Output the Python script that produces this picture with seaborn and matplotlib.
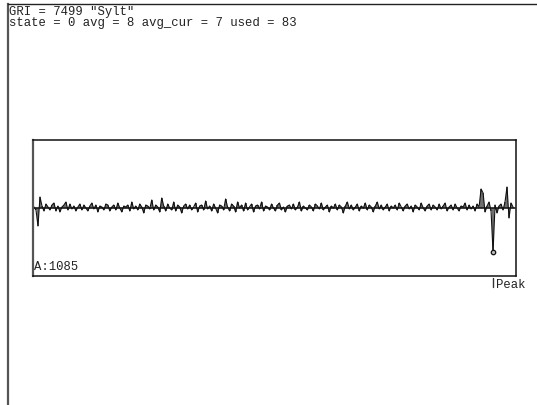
import numpy as np
import pandas as pd
import matplotlib
matplotlib.use("Agg")
import matplotlib.pyplot as plt
import seaborn as sns

# Receiver status line values
gri = 7499
station = "Sylt"
state = 0
avg = 8
avg_cur = 7
used = 83
amplitude_label = 1085

# Sampled pulse trace (one value per sample, baseline = 0)
trace = [
    1, -2, -18, 11, 2, -3, 4, 1, -2, 3, 5, -3, 2, -4, 1, 3, 6, -2, 4, -1,
    2, -3, 1, 4, -2, 3, 0, -3, 2, 5, -1, 3, -4, 2, 1, -2, 4, 3, -3, 1,
    3, -2, 5, 0, -4, 2, 1, 3, -3, 6, -1, 2, -2, 4, 1, -5, 3, 2, -1, 8,
    -2, 3, 1, -4, 10, 2, -3, 4, 0, -2, 6, -3, 3, 1, -5, 2, 4, -1, 3, -2,
    1, 5, -4, 2, 3, -2, 7, -1, 2, -3, 4, 0, -5, 3, 2, -2, 9, 1, -3, 4,
    2, -4, 6, 0, 3, -3, 5, -2, 1, 4, -4, 2, 3, -1, 6, -3, 2, 1, -2, 4,
    0, -3, 3, 5, -2, 1, -4, 2, 3, -1, 4, -2, 1, 6, -3, 2, 0, -2, 3, 1,
    -3, 4, 2, -1, 5, -2, 1, 3, -4, 2, 0, 4, -2, 3, 1, -5, 2, 6, -1, 3,
    -2, 1, 4, -3, 2, 0, 5, -2, 3, 1, -4, 2, 6, -1, 3, -2, 1, 4, -3, 2,
    0, 3, -2, 5, 1, -3, 2, 4, -1, 2, -4, 3, 1, -2, 5, 0, -3, 2, 4, -2,
    3, 1, -2, 4, -1, 2, 5, -3, 1, 3, -2, 4, 0, -3, 2, 1, 5, -2, 3, -1,
    2, -3, 4, 1, 19, 15, -4, 2, 6, -3, -44, 3, -5, 2, 4, -2, 6, 21, -10, 5, 1,
]
peak_index = 230

df = pd.DataFrame({"sample": np.arange(len(trace)), "value": trace})

sns.set_style("white")
plt.rcParams["font.family"] = ["Liberation Mono", "DejaVu Sans Mono"]

W, H = 537, 406
fig = plt.figure(figsize=(W / 100, H / 100), dpi=100)

# Outer window frame: left and top edges only
frame = fig.add_axes([8 / W, 0, 1 - 8 / W, (H - 5) / H])
frame.set_xlim(0, 1)
frame.set_ylim(0, 1)
frame.set_xticks([])
frame.set_yticks([])
for side in ("right", "bottom"):
    frame.spines[side].set_visible(False)
frame.spines["left"].set_color("#555555")
frame.spines["left"].set_linewidth(1.6)
frame.spines["top"].set_color("#222222")
frame.spines["top"].set_linewidth(1.0)
frame.patch.set_alpha(0)

fs = 8.8
status = (f'GRI = {gri} "{station}"\n'
          f"state = {state} avg = {avg} avg_cur = {avg_cur} used = {used}")
fig.text(9 / W, 1 - 5.5 / H, status, fontsize=fs, color="#222222",
         va="top", ha="left", linespacing=0.95)

# Trace box
left, right, top, bottom = 33, 516, 141, 277
ax = fig.add_axes([left / W, 1 - bottom / H, (right - left) / W, (bottom - top) / H])
ax.vlines(df["sample"], 0, df["value"], color="#444444", linewidth=1.1)
ax.axhline(0, color="#1a1a1a", linewidth=1.2, xmin=0.002, xmax=0.998)
sns.lineplot(data=df, x="sample", y="value", ax=ax, color="#111111",
             linewidth=0.8, estimator=None)
ax.set_xlim(-0.5, len(trace) + 0.5)
ax.set_ylim(-68, 68)
ax.set_xticks([])
ax.set_yticks([])
ax.set_xlabel("")
ax.set_ylabel("")
for s in ax.spines.values():
    s.set_color("#111111")
    s.set_linewidth(1.1)
ax.spines["left"].set_color("#555555")
ax.spines["left"].set_linewidth(1.6)

ax.plot([peak_index], [trace[peak_index]], marker="o", markersize=3.2,
        markerfacecolor="#bbbbbb", markeredgecolor="#111111",
        markeredgewidth=0.9, linestyle="none")

ax.text(0.003, 0.03, f"A:{amplitude_label}", transform=ax.transAxes,
        fontsize=fs, color="#222222", ha="left", va="bottom")

# Peak marker below the box
ax.plot([peak_index, peak_index], [-69.5, -79], color="#333333",
        linewidth=1.0, clip_on=False)
ax.text(peak_index + 1.3, -76, "Peak", fontsize=fs, color="#222222",
        ha="left", va="center")

fig.savefig("out.png", dpi=100)
